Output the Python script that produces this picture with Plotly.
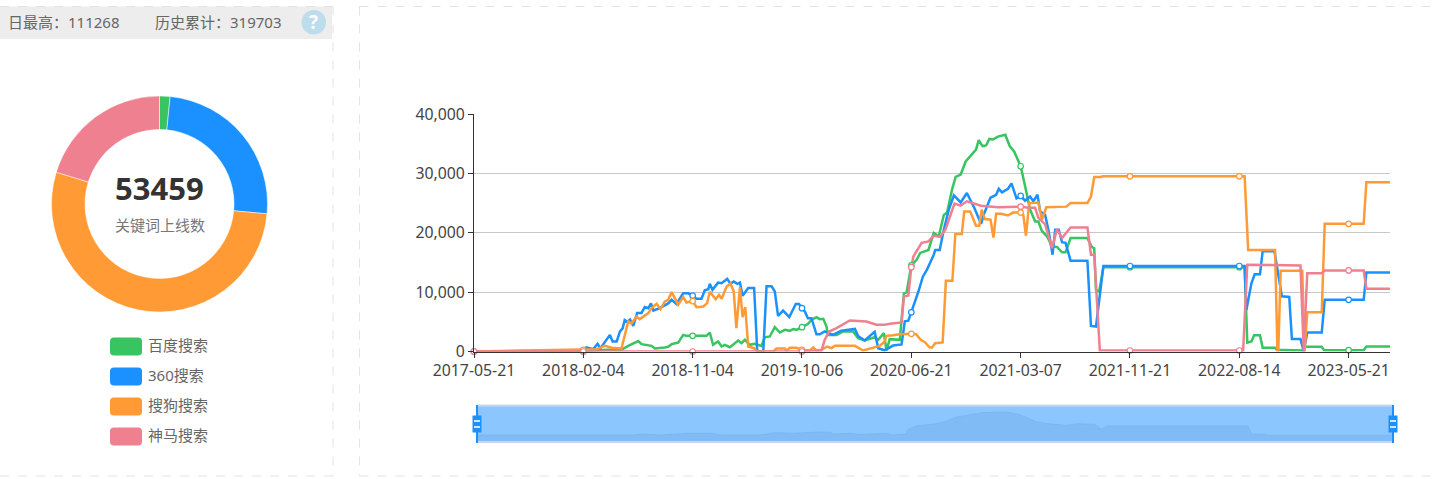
import plotly.graph_objects as go

W, H = 1439, 479
tick_index = [0, 37, 74, 111, 148, 185, 222, 259, 296]
tick_labels = ["2017-05-21", "2018-02-04", "2018-11-04", "2019-10-06", "2020-06-21",
               "2021-03-07", "2021-11-21", "2022-08-14", "2023-05-21"]
names = ["百度搜索", "360搜索", "搜狗搜索", "神马搜索"]
colors = ["#37C461", "#1B91FF", "#FF9A35", "#EE808F"]
pie_values = [840, 13300, 28500, 10819]

green_x = [0, 37, 44.9, 49.9, 52.2, 55.6, 56.7, 60.1, 61.2, 62.9, 64.6, 65.7, 66.9, 69.1, 70.8, 71.9, 74, 78.7, 79.8, 80.9, 82.6, 83.8, 84.9, 86.6, 89.4, 90.5, 91.7, 93.3, 95, 97.3, 98.4, 100.1, 101.8, 103.5, 105.2, 106.9, 108, 109.1, 111, 113.1, 114.2, 115.9, 117, 118.2, 119.3, 119.8, 122.7, 125, 128.3, 130, 132.2, 135.6, 136.8, 138.7, 139.6, 140.7, 144.1, 145.5, 146.4, 148, 149.8, 151, 153.8, 155.6, 157.3, 159, 160.1, 161.8, 163, 164.7, 166.4, 168.7, 169.9, 170.8, 172.1, 173.3, 174.4, 175.6, 177.3, 179.8, 181.3, 182.8, 185, 186.4, 188.2, 189.9, 191, 192.2, 193.9, 195.6, 197.3, 199, 200.2, 201.9, 207.6, 209.1, 209.9, 210.5, 211.6, 213, 222, 259, 260.8, 261.7, 263.1, 264, 266, 266.9, 271.1, 271.7, 280.3, 281.4, 286.9, 287.7, 296, 301.1, 302, 310]
green_y = [0, 0, 280, 280, 950, 1750, 1240, 950, 500, 560, 670, 790, 1240, 1500, 2800, 2640, 2640, 2640, 3200, 1120, 1690, 840, 1120, 730, 1850, 1400, 1970, 1120, 1290, 950, 2400, 2530, 4100, 3200, 3650, 3480, 3770, 3650, 4100, 4660, 5340, 5790, 5450, 5500, 4200, 2800, 2800, 3370, 3370, 2250, 1850, 2400, 1970, 3090, 170, 2080, 1970, 9800, 9950, 14500, 15450, 16600, 17100, 19950, 19400, 23000, 23400, 27300, 29400, 29800, 32000, 33400, 34000, 35600, 34600, 34700, 35800, 35700, 36200, 36500, 34600, 33700, 31200, 28100, 23900, 21900, 21900, 20300, 19400, 17700, 17600, 16700, 16700, 19100, 19100, 17600, 17400, 10400, 10100, 14200, 14200, 14200, 14200, 1500, 1700, 2750, 2750, 620, 620, 280, 170, 790, 790, 220, 220, 220, 840, 840]

blue_x = [0, 37, 38, 40.4, 41.8, 42.8, 46, 46.9, 48.3, 49.4, 50.3, 51, 51.9, 52.8, 53.9, 55.2, 56.7, 57.8, 59, 59.9, 60.7, 62.9, 65.7, 66.9, 68.5, 70.8, 72.5, 74, 75.3, 77, 78.1, 79.3, 79.8, 80.7, 82.6, 83.8, 85.7, 86.8, 87.9, 89.1, 90, 90.9, 92.8, 94.8, 95.8, 96, 97.9, 99, 100.7, 101.8, 102.9, 104.6, 106.7, 108.9, 110, 111, 112, 113, 114.2, 115.9, 117, 118.7, 121.5, 124.3, 128.9, 130, 132.2, 135.6, 136.8, 139, 141.8, 144.7, 145.8, 147, 148, 150.4, 151.9, 153.3, 155.6, 156.1, 157.6, 159, 160.7, 162.4, 164.7, 166.8, 169.3, 171.6, 172.7, 174.8, 176.7, 177.6, 178.7, 180.7, 181.9, 183.6, 185, 186.5, 188.2, 189.3, 190.7, 191.6, 193.3, 194.5, 195.8, 196.7, 197.9, 199, 200.2, 201.9, 207.6, 208.8, 210.5, 213, 222, 259, 260.8, 261.4, 263.1, 264.2, 266, 266.9, 270.9, 273.4, 275.9, 276.8, 279.7, 280.8, 282, 286.9, 287.9, 296, 301.1, 302, 310]
blue_y = [0, 150, 700, 400, 1300, 560, 2800, 1700, 1700, 3400, 3900, 5300, 5000, 5400, 4300, 6500, 6500, 7500, 7300, 8100, 6900, 7300, 8100, 8700, 8000, 9800, 9800, 9400, 8900, 8900, 10300, 10500, 11400, 10400, 11600, 11500, 12250, 11400, 11800, 11400, 11600, 9400, 10700, 10700, 560, 0, 0, 11000, 11000, 10100, 6000, 6900, 5800, 8000, 8000, 7300, 6700, 5600, 5600, 2900, 2900, 3400, 2800, 3500, 3800, 2600, 1850, 3300, 560, 200, 1000, 1200, 5100, 5200, 6600, 10100, 12600, 13800, 16300, 17100, 17100, 20500, 23900, 26300, 25100, 26700, 24200, 21500, 23300, 25900, 26400, 27400, 26800, 27400, 28300, 25800, 26200, 25400, 26100, 25300, 26400, 23600, 23000, 20200, 16300, 20500, 20500, 18400, 18300, 15300, 15300, 4300, 4200, 14400, 14400, 14400, 14400, 7000, 11500, 13000, 13000, 16900, 16900, 9300, 9200, 2100, 2100, 0, 3200, 3200, 8700, 8700, 8700, 13300, 13300]

orange_x = [0, 35.9, 37, 41.5, 44.3, 46.6, 49.9, 50.7, 52.2, 53.3, 55, 56.1, 59, 60.1, 61.8, 63.1, 64.6, 65.7, 66.9, 69.1, 70.8, 71.9, 74, 75.3, 77.6, 78.9, 79.8, 81.8, 82.9, 83.8, 85.5, 86.8, 87.9, 88.8, 90, 90.9, 91.8, 92.8, 94.8, 95.8, 101.2, 102.4, 105.2, 105.8, 106.9, 109.1, 111, 113.6, 114.8, 115.9, 117.6, 119.5, 121, 122.1, 128.9, 131.7, 137.3, 139, 139.5, 141.8, 144.1, 148, 149.6, 151.2, 152.7, 154.2, 155, 156.1, 158.6, 159.7, 161.9, 162.9, 165.1, 165.9, 167.9, 169.9, 171, 171.8, 172.9, 174.8, 175.8, 176.7, 178.4, 180.7, 182.4, 185, 185.9, 186.8, 187.9, 191, 192.2, 193.7, 197.3, 200.5, 201.9, 207.6, 208.8, 209.9, 212.2, 212.8, 222, 259, 260.8, 262, 271.1, 271.9, 272.2, 273, 280.3, 281.1, 282, 286.9, 287.9, 296, 301.1, 302, 310]
orange_y = [0, 280, 280, 390, 950, 620, 500, 1970, 5060, 4700, 5900, 5450, 6460, 7300, 8040, 7140, 8430, 8710, 10000, 7870, 9160, 8260, 8500, 7470, 7590, 8150, 10060, 8820, 9550, 8880, 10960, 11460, 10120, 3930, 10850, 5790, 7470, 840, 560, 0, 0, 500, 500, 170, 620, 620, 280, 170, 670, 170, 280, 840, 560, 950, 950, 170, 950, 1690, 2640, 2750, 2920, 2980, 2920, 1970, 1520, 670, 670, 1400, 1520, 11900, 11900, 19800, 19800, 23600, 23600, 21200, 21200, 23900, 22300, 22200, 19200, 23200, 23200, 22900, 23400, 23400, 23000, 19500, 25000, 25100, 22200, 24300, 24300, 24400, 25000, 25000, 26100, 29400, 29400, 29500, 29500, 29500, 29500, 17100, 17100, 170, 170, 13600, 13600, 0, 6600, 6600, 21500, 21500, 21500, 28500, 28500]

pink_x = [0, 37, 74, 111, 117.6, 118.7, 120.2, 122.7, 127.2, 132.8, 136.2, 139, 140.7, 144.7, 145.5, 147, 148, 148.7, 151.5, 153.8, 155.6, 157.8, 159.6, 162.6, 164.7, 166.8, 171.6, 177.3, 185, 187.6, 189.9, 191, 193.3, 195.6, 197.3, 199, 201.9, 207.6, 208.8, 209.9, 211.8, 222, 259, 260.3, 261.7, 279.7, 280.8, 282, 286.9, 287.9, 296, 301.1, 302, 310]
pink_y = [0, 0, 0, 0, 170, 1970, 3370, 3930, 5230, 5060, 4500, 4500, 4660, 4890, 9270, 9440, 14200, 16000, 18300, 18550, 19500, 19300, 20600, 24900, 24560, 25300, 24560, 24300, 24400, 24200, 24200, 22500, 21400, 17400, 20600, 19100, 20900, 20900, 16300, 16300, 170, 170, 170, 170, 14600, 14500, 170, 13200, 13200, 13650, 13650, 13650, 10570, 10570]

slider_x = [0, 52.8, 55.8, 62, 71, 80, 82.4, 91.4, 95.9, 101.4, 107, 116, 119.6, 120.6, 126.3, 129.7, 138.7, 140.4, 145, 146, 148.8, 154.3, 159, 162.3, 166.8, 171.2, 179.3, 183.8, 187.1, 189.4, 194.9, 199.6, 202.9, 209.1, 211.4, 213.1, 260.9, 262.2, 266, 267.2, 310]
slider_y = [8600, 8600, 10000, 8600, 11000, 11000, 8600, 9300, 8600, 11900, 11000, 12900, 12400, 10000, 11000, 9300, 11000, 8600, 10000, 16700, 21900, 23900, 28200, 34300, 37600, 40500, 41500, 37600, 31900, 27200, 23900, 22500, 24700, 23900, 16700, 21500, 21500, 9600, 10000, 8200, 8200]


def px(x):
    return x / W


def py(y):
    return 1 - y / H


def rect(x0, y0, x1, y1, fill, layer="below"):
    return dict(type="rect", xref="paper", yref="paper", x0=px(x0), x1=px(x1), y0=py(y0), y1=py(y1),
                fillcolor=fill, line=dict(width=0), layer=layer)


def line(x0, y0, x1, y1, color, width=1, dash="solid", layer="below"):
    return dict(type="line", xref="paper", yref="paper", x0=px(x0), x1=px(x1), y0=py(y0), y1=py(y1),
                line=dict(color=color, width=width, dash=dash), layer=layer)


def round_rect(x0, y0, x1, y1, r, fill):
    X = lambda v: f"{px(v):.6f}"
    Y = lambda v: f"{py(v):.6f}"
    p = (f"M {X(x0+r)} {Y(y0)} L {X(x1-r)} {Y(y0)} Q {X(x1)} {Y(y0)} {X(x1)} {Y(y0+r)} "
         f"L {X(x1)} {Y(y1-r)} Q {X(x1)} {Y(y1)} {X(x1-r)} {Y(y1)} "
         f"L {X(x0+r)} {Y(y1)} Q {X(x0)} {Y(y1)} {X(x0)} {Y(y1-r)} "
         f"L {X(x0)} {Y(y0+r)} Q {X(x0)} {Y(y0)} {X(x0+r)} {Y(y0)} Z")
    return dict(type="path", xref="paper", yref="paper", path=p, fillcolor=fill, line=dict(width=0), layer="above")


fig = go.Figure()

fig.add_trace(go.Pie(values=pie_values, labels=names, marker=dict(colors=colors, line=dict(color="white", width=0.5)),
                     hole=0.69, sort=False, direction="clockwise", rotation=0, textinfo="none",
                     showlegend=False, hoverinfo="label+value",
                     domain=dict(x=[px(51.5), px(267.5)], y=[py(312), py(96)])))

series = [(green_x, green_y), (blue_x, blue_y), (orange_x, orange_y), (pink_x, pink_y)]
for (xs, ys), name, c in zip(series, names, colors):
    fig.add_trace(go.Scatter(x=xs, y=ys, mode="lines", name=name, line=dict(color=c, width=2.5),
                             cliponaxis=False, showlegend=False))
for (xs, ys), name, c in zip(series, names, colors):
    mx = [x for x in xs if x in tick_index]
    my = [y for x, y in zip(xs, ys) if x in tick_index]
    fig.add_trace(go.Scatter(x=mx, y=my, mode="markers", name=name, cliponaxis=False, showlegend=False,
                             marker=dict(size=5.5, color="white", line=dict(color=c, width=1.2))))

fig.add_trace(go.Scatter(x=slider_x, y=slider_y, xaxis="x2", yaxis="y2", mode="lines", fill="tozeroy",
                         fillcolor="#81BBF5", line=dict(color="#79B3EE", width=0.7), showlegend=False,
                         hoverinfo="skip"))

border = "#E3E3E3"
shapes = [
    rect(0, 6.5, 332, 39, "#EDEDED"),
    line(0, 6.5, 333, 6.5, border, 1, "dash"),
    line(333, 6.5, 333, 476, border, 1, "dash"),
    line(0, 476, 333, 476, border, 1, "dash"),
    line(359.5, 6.5, 1439, 6.5, border, 1, "dash"),
    line(359.5, 6.5, 359.5, 476, border, 1, "dash"),
    line(359.5, 476, 1439, 476, border, 1, "dash"),
    dict(type="circle", xref="paper", yref="paper", x0=px(301.5), x1=px(326), y0=py(34.5), y1=py(10),
         fillcolor="#BDDCEC", line=dict(width=0), layer="below"),
    rect(477, 406, 1393, 441.5, "#8CC6FF"),
    line(477, 405.5, 1393, 405.5, "#C7D7E8", 2),
    line(477, 442, 1393, 442, "#C7D7E8", 2),
]
for hx in (477, 1393):
    shapes += [
        line(hx, 405, hx, 443, "#1B91FF", 2, layer="above"),
        rect(hx - 4.5, 415.5, hx + 4.5, 432.5, "#1B91FF", layer="above"),
        rect(hx - 3, 420, hx + 3, 422, "#CFE6FF", layer="above"),
        rect(hx - 3, 426, hx + 3, 428, "#CFE6FF", layer="above"),
    ]
for i, c in enumerate(colors):
    shapes.append(round_rect(110, 337.5 + 30 * i, 142, 355.5 + 30 * i, 4, c))

FONT = "Noto Sans, Noto Sans CJK SC, sans-serif"


def note(x, y, text, size=15, color="#666666", anchor="left", bold=False):
    return dict(xref="paper", yref="paper", x=px(x), y=py(y), text=f"<b>{text}</b>" if bold else text,
                showarrow=False, xanchor=anchor, yanchor="middle",
                font=dict(size=size, color=color, family=FONT))


annotations = [
    note(6, 22, "日最高：111268", 15, "#666666"),
    note(153, 22, "历史累计：319703", 15, "#666666"),
    note(313.7, 22, "?", 19, "#FFFFFF", "center", True),
    note(159.5, 188, "53459", 31, "#333333", "center", True),
    note(159.5, 225, "关键词上线数", 15, "#777777", "center"),
]
for i, n in enumerate(names):
    annotations.append(note(146, 344.5 + 30 * i, n, 15, "#666666"))

fig.update_layout(
    width=W, height=H, margin=dict(l=0, r=0, t=0, b=0, autoexpand=False), paper_bgcolor="white",
    plot_bgcolor="rgba(0,0,0,0)",
    autosize=False, shapes=shapes, annotations=annotations, hovermode="closest",
    font=dict(family=FONT, color="#444444", size=15),
    xaxis=dict(domain=[px(474), px(1390)], range=[0, 310], tickmode="array", tickvals=tick_index, ticktext=tick_labels,
               showgrid=False, zeroline=False, showline=True, linecolor="#333333", linewidth=1,
               ticks="outside", ticklen=5, tickcolor="#333333", tickfont=dict(size=15.8, color="#444444"), anchor="y"),
    yaxis=dict(domain=[py(351.5), py(114)], range=[0, 40000], tickmode="array",
               tickvals=[0, 10000, 20000, 30000, 40000], tickformat=",",
               showgrid=True, gridcolor="#C8C8C8", gridwidth=1.3, zeroline=False, showline=True, linecolor="#333333",
               linewidth=1, ticks="outside", ticklen=5, tickcolor="#333333", tickfont=dict(size=15.8, color="#444444"),
               anchor="x"),
    xaxis2=dict(domain=[px(477), px(1393)], range=[0, 310], visible=False, anchor="y2"),
    yaxis2=dict(domain=[py(441), py(406)], range=[0, 50000], visible=False, anchor="x2"),
)

fig.write_html("out.html", config=dict(displayModeBar=False),
               post_script="document.body.style.margin='0';document.body.style.overflow='hidden';")
